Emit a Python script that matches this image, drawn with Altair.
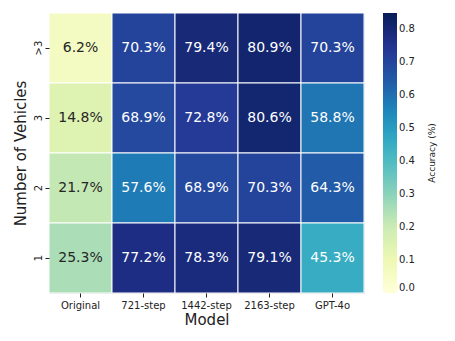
import altair as alt
import pandas as pd

models = ["Original", "721-step", "1442-step", "2163-step", "GPT-4o"]
vehicles = [">3", "3", "2", "1"]
acc_gt3 = [0.062, 0.703, 0.794, 0.809, 0.703]
acc_3 = [0.148, 0.689, 0.728, 0.806, 0.588]
acc_2 = [0.217, 0.576, 0.689, 0.703, 0.643]
acc_1 = [0.253, 0.772, 0.783, 0.791, 0.453]
colorbar_title = "Accuracy (%)"

rows = []
for v, vals in zip(vehicles, [acc_gt3, acc_3, acc_2, acc_1]):
    for m, a in zip(models, vals):
        rows.append({"Model": m, "Vehicles": v, "acc": a, "label": f"{a*100:.1f}%"})
df = pd.DataFrame(rows)

ylgnbu = ["#ffffd9", "#edf8b1", "#c7e9b4", "#7fcdbb", "#41b6c4",
          "#1d91c0", "#225ea8", "#253494", "#081d58"]
vmax = 0.848
dom = [vmax * i / 8 for i in range(9)]

base = alt.Chart(df).encode(
    x=alt.X("Model:N", sort=models, title="Model",
            axis=alt.Axis(labelAngle=0, labelFontSize=10, titleFontSize=15,
                          titleFontWeight="normal", tickSize=4, domain=False,
                          labelColor="#222", titleColor="#222", titlePadding=2,
                          labelPadding=3)),
    y=alt.Y("Vehicles:N", sort=vehicles, title="Number of Vehicles",
            axis=alt.Axis(labelAngle=270, labelFontSize=10, titleFontSize=15,
                          titleFontWeight="normal", tickSize=4, domain=False,
                          labelColor="#222", titleColor="#222", labelBaseline="middle",
                          labelAlign="center", labelPadding=7, titlePadding=5)),
)

rect = base.mark_rect(stroke="white", strokeWidth=1).encode(
    color=alt.Color("acc:Q",
                    scale=alt.Scale(domain=dom, range=ylgnbu, interpolate="rgb"),
                    legend=alt.Legend(title=None, orient="right",
                                      gradientLength=280, gradientThickness=14,
                                      values=[0, 0.1, 0.2, 0.3, 0.4, 0.5, 0.6, 0.7, 0.8],
                                      format=".1f", labelFontSize=10,
                                      labelColor="#222", offset=19, tickCount=9,
                                      gradientStrokeWidth=0))
)

text = base.mark_text(fontSize=14).encode(
    text="label:N",
    color=alt.condition(alt.datum.acc > 0.3, alt.value("white"), alt.value("#262626")),
)

cbt = alt.Chart(pd.DataFrame({"t": [colorbar_title]})).mark_text(
    angle=270, fontSize=9, color="#222", baseline="middle", align="center"
).encode(text="t:N", x=alt.value(383), y=alt.value(140))

chart = (rect + text + cbt).properties(width=315, height=280).configure_view(stroke=None).configure(
    font="DejaVu Sans", padding={"left": 5, "top": 4, "right": 5, "bottom": 5}
).configure_axis(grid=False, tickColor="#222")

chart.save("out.html", embed_options={"renderer": "svg", "actions": False})
